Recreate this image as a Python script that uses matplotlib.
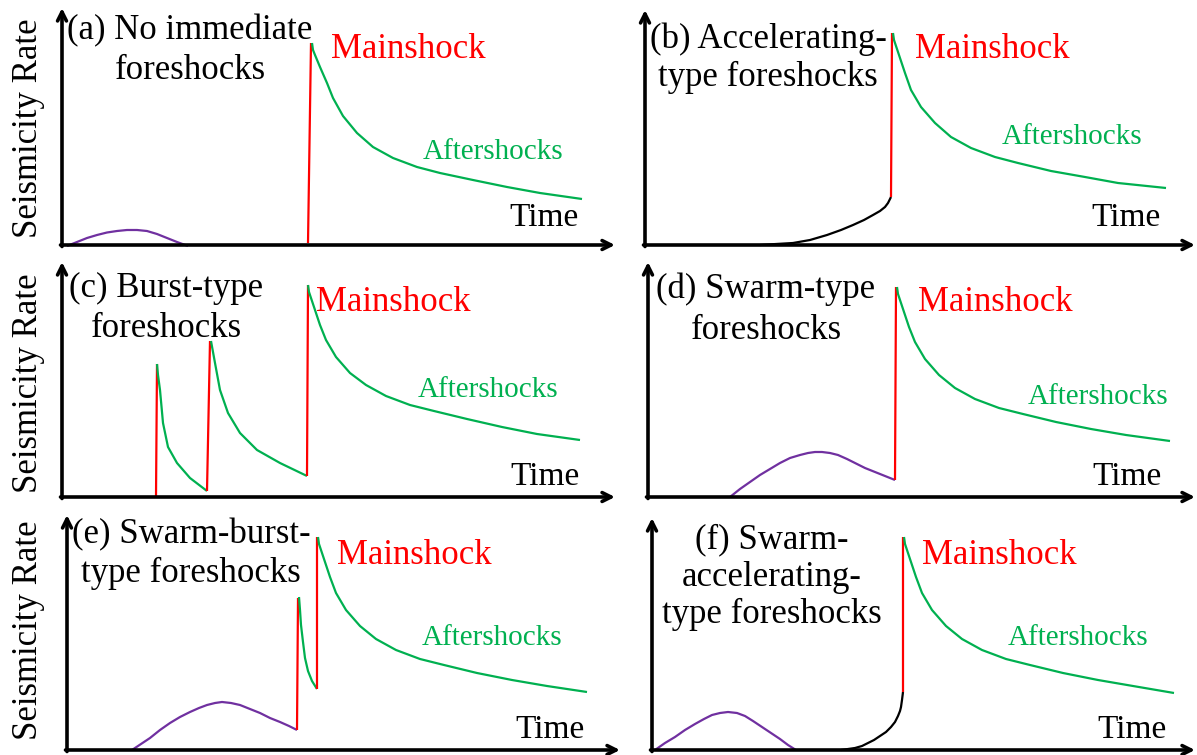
import matplotlib.pyplot as plt

plt.rcParams['font.family'] = ['Liberation Serif', 'DejaVu Serif']

RED = '#ff0000'
GREEN = '#00b050'
PURPLE = '#7030a0'
BLACK = '#000000'

# curve values, (time, rate)
# (a) no immediate foreshocks
a_swarm = [(5, -1), (15, 3), (25, 7), (35, 10), (45, 12.5), (55, 14), (65, 15), (75, 15),
           (85, 14), (95, 11), (105, 7), (115, 3), (126, -1)]
a_main = [(246, 2), (249, 202)]
a_after = [(250, 202), (251, 195), (253, 190), (258, 178), (265, 162), (271, 147),
           (281, 129), (295, 112), (311, 98), (331, 87), (355, 78), (378, 72),
           (411, 65), (445, 58), (478, 52), (520, 46)]

# (b) accelerating-type
b_accel = [(115, 0), (131, 1), (148, 2), (165, 5), (182, 10), (196, 15), (208, 20),
           (219, 25), (228, 30), (235, 34), (240, 38), (243, 42), (245, 46), (246, 48)]
b_main = [(246, 48), (247, 212)]
b_after = [(248, 212), (249, 205), (253, 193), (260, 172), (266, 155), (276, 138),
           (290, 122), (306, 108), (326, 97), (350, 88), (373, 82), (406, 74),
           (440, 68), (473, 62), (521, 57)]

# (c) burst-type
c_main1 = [(94, 0), (95, 133)]
c_after1 = [(95, 133), (96, 122), (98, 107), (101, 74), (106, 50), (115, 34),
            (128, 19), (145, 6)]
c_main2 = [(145, 6), (148, 156)]
c_after2 = [(149, 156), (153, 134), (158, 107), (166, 84), (178, 64), (195, 47),
            (218, 34), (245, 21)]
c_main3 = [(245, 21), (246, 212)]
c_after3 = [(246, 212), (247, 205), (251, 193), (258, 172), (264, 157), (274, 140),
            (288, 124), (304, 112), (324, 101), (348, 92), (372, 86), (405, 78),
            (440, 70), (475, 63), (518, 57)]

# (d) swarm-type
d_swarm = [(82, 0), (92, 8), (102, 15), (112, 22), (122, 28), (132, 34), (142, 39),
           (152, 42), (160, 44), (167, 45), (174, 45), (182, 44), (190, 42), (199, 38),
           (207, 34), (217, 29), (227, 25), (237, 21), (247, 17)]
d_main = [(247, 17), (248, 210)]
d_after = [(249, 210), (250, 203), (254, 191), (261, 170), (267, 155), (277, 138),
           (291, 122), (307, 109), (327, 98), (351, 89), (375, 83), (408, 75),
           (443, 68), (478, 62), (522, 56)]

# (e) swarm-burst-type
e_swarm = [(65, 0), (74, 6), (83, 12), (93, 20), (103, 27), (113, 33), (123, 38),
           (132, 42), (140, 45), (148, 47), (155, 48), (164, 47), (173, 45), (183, 41),
           (193, 37), (203, 32), (213, 28), (222, 24), (230, 20)]
e_main1 = [(230, 20), (231, 152)]
e_after1 = [(232, 153), (233, 140), (234, 125), (236, 108), (238, 92), (241, 79),
            (245, 69), (250, 61)]
e_main2 = [(250, 61), (250, 213)]
e_after2 = [(251, 213), (252, 206), (256, 194), (263, 173), (269, 157), (279, 140),
            (293, 124), (309, 111), (329, 100), (353, 91), (377, 85), (410, 77),
            (445, 70), (480, 64), (520, 58)]

# (f) swarm-accelerating-type
f_swarm = [(3, 0), (13, 7), (23, 13), (33, 20), (43, 26), (52, 31), (60, 35), (68, 37),
           (76, 38), (85, 37), (93, 34), (101, 29), (110, 23), (119, 17), (128, 11),
           (136, 5), (144, 0)]
f_accel = [(189, 0), (196, 1), (203, 2), (210, 4), (216, 7), (222, 10), (228, 14),
           (234, 18), (239, 23), (243, 28), (246, 34), (248, 39), (249, 43), (250, 50),
           (251, 58)]
f_main = [(251, 58), (251, 213)]
f_after = [(252, 213), (253, 206), (257, 194), (264, 173), (270, 157), (280, 140),
           (294, 124), (310, 111), (330, 100), (354, 91), (378, 85), (411, 77),
           (446, 70), (481, 64), (522, 57)]

panel_titles = {
    'a': ['(a) No immediate', 'foreshocks'],
    'b': ['(b) Accelerating-', 'type foreshocks'],
    'c': ['(c) Burst-type', 'foreshocks'],
    'd': ['(d) Swarm-type', 'foreshocks'],
    'e': ['(e) Swarm-burst-', 'type foreshocks'],
    'f': ['(f) Swarm-', 'accelerating-', 'type foreshocks'],
}

W, H = 1197, 755

# panel frames in image pixels: origin x, origin y, arrow tip x, arrow tip y
frames = {
    'a': (62, 245, 615, 8),
    'b': (645, 245, 1195, 10),
    'c': (62, 497, 615, 262),
    'd': (648, 497, 1195, 262),
    'e': (67, 750, 620, 515),
    'f': (652, 750, 1195, 518),
}

curves = {
    'a': [(a_swarm, PURPLE), (a_main, RED), (a_after, GREEN)],
    'b': [(b_accel, BLACK), (b_main, RED), (b_after, GREEN)],
    'c': [(c_main1, RED), (c_after1, GREEN), (c_main2, RED), (c_after2, GREEN),
          (c_main3, RED), (c_after3, GREEN)],
    'd': [(d_swarm, PURPLE), (d_main, RED), (d_after, GREEN)],
    'e': [(e_swarm, PURPLE), (e_main1, RED), (e_after1, GREEN), (e_main2, RED),
          (e_after2, GREEN)],
    'f': [(f_swarm, PURPLE), (f_accel, BLACK), (f_main, RED), (f_after, GREEN)],
}

# text placement in image pixels (title: centre x, baselines)
title_pos = {'a': (190, [39, 79]), 'b': (768, [48, 86]), 'c': (166, [297, 337]),
             'd': (766, [298, 339]), 'e': (191, [543, 582]), 'f': (772, [548, 586, 623])}
main_pos = {'a': (331, 50), 'b': (915, 50), 'c': (316, 302), 'd': (918, 302),
            'e': (337, 555), 'f': (922, 555)}
after_pos = {'a': (423, 152), 'b': (1002, 137), 'c': (418, 390), 'd': (1028, 397),
             'e': (422, 638), 'f': (1008, 638)}
time_pos = {'a': (509, 218), 'b': (1091, 218), 'c': (510, 477), 'd': (1092, 477),
            'e': (515, 730), 'f': (1097, 730)}

fig = plt.figure(figsize=(W / 100, H / 100), dpi=100)

for key, (x0, y0, x1, y1) in frames.items():
    w, h = x1 - x0, y0 - y1
    ax = fig.add_axes([x0 / W, 1 - y0 / H, w / W, h / H])
    ax.set_xlim(0, w)
    ax.set_ylim(0, h)
    ax.axis('off')

    # axes drawn as arrows
    ax.annotate('', xy=(w, 0), xytext=(-1.5, 0), annotation_clip=False,
                arrowprops=dict(arrowstyle='->', lw=2.6, color='black',
                                mutation_scale=16, shrinkA=0, shrinkB=0))
    ax.annotate('', xy=(0, h), xytext=(0, -1.5), annotation_clip=False,
                arrowprops=dict(arrowstyle='->', lw=2.6, color='black',
                                mutation_scale=16, shrinkA=0, shrinkB=0))

    for pts, col in curves[key]:
        ax.plot([p[0] for p in pts], [p[1] for p in pts], color=col, lw=1.6,
                clip_on=False, solid_capstyle='butt', solid_joinstyle='round')

    cx, baselines = title_pos[key]
    for line, by in zip(panel_titles[key], baselines):
        ax.text(cx - x0, y0 - by, line, fontsize=25, ha='center', va='baseline',
                color='black')

    mx, my = main_pos[key]
    ax.text(mx - x0, y0 - my, 'Mainshock', fontsize=25, color=RED, ha='left', va='center')
    axx, ayy = after_pos[key]
    ax.text(axx - x0, y0 - ayy, 'Aftershocks', fontsize=21, color=GREEN, ha='left',
            va='center')
    tx, ty = time_pos[key]
    ax.text(tx - x0, y0 - ty, 'Time', fontsize=24, color='black', ha='left', va='center')

for cy in (128, 383, 630):
    fig.text(29 / W, 1 - cy / H, 'Seismicity Rate', rotation=90, fontsize=25,
             ha='center', va='center')

fig.savefig('out.png', dpi=100)
